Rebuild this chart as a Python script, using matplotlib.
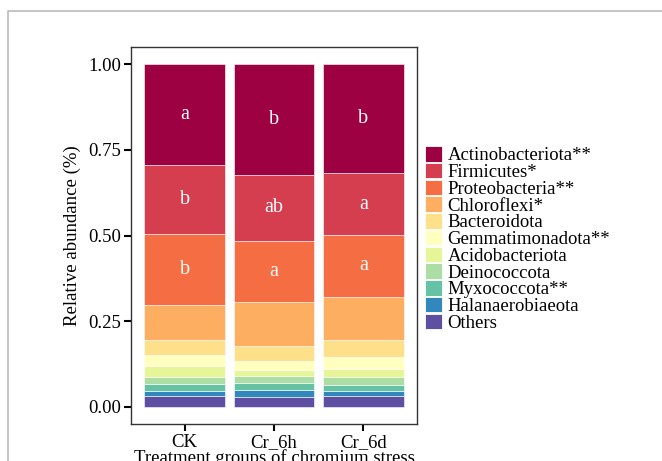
import numpy as np
import matplotlib
matplotlib.use("Agg")
import matplotlib.pyplot as plt
from matplotlib.patches import Patch
from matplotlib.lines import Line2D

plt.rcParams['font.family'] = ['Liberation Serif', 'DejaVu Serif']

groups = ['CK', 'Cr_6h', 'Cr_6d']

# phyla from bottom of stack to top
phyla = ['Others', 'Halanaerobiaeota', 'Myxococcota**', 'Deinococcota',
         'Acidobacteriota', 'Gemmatimonadota**', 'Bacteroidota',
         'Chloroflexi*', 'Proteobacteria**', 'Firmicutes*', 'Actinobacteriota**']

others = [0.033, 0.029, 0.032]
halanaerobiaeota = [0.0136, 0.0196, 0.0156]
myxococcota = [0.0204, 0.0214, 0.0164]
deinococcota = [0.0214, 0.0204, 0.0244]
acidobacteriota = [0.032, 0.0186, 0.0224]
gemmatimonadota = [0.032, 0.025, 0.035]
bacteroidota = [0.042, 0.044, 0.049]
chloroflexi = [0.104, 0.129, 0.1257]
proteobacteria = [0.207, 0.178, 0.1813]
firmicutes = [0.1995, 0.1905, 0.180]
actinobacteriota = [0.2945, 0.3245, 0.318]

# significance letters
letters_actino = ['a', 'b', 'b']
letters_firm = ['b', 'ab', 'a']
letters_proteo = ['b', 'a', 'a']

colors = ['#5E4FA2', '#3288BD', '#66C2A5', '#ABDDA4', '#E6F598', '#FFFFBF',
          '#FEE08B', '#FDAE61', '#F46D43', '#D53E4F', '#9E0142']

values = np.array([others, halanaerobiaeota, myxococcota, deinococcota,
                   acidobacteriota, gemmatimonadota, bacteroidota, chloroflexi,
                   proteobacteria, firmicutes, actinobacteriota])

fig = plt.figure(figsize=(6.62, 4.61), dpi=100)
W, H = 662, 461
ax = fig.add_axes([131 / W, (H - 424) / H, (417 - 131) / W, (424 - 47) / H])

x = np.arange(1, len(groups) + 1)
bottom = np.zeros(len(groups))
for i, name in enumerate(phyla):
    ax.bar(x, values[i], 0.9, bottom=bottom, color=colors[i],
           edgecolor='white', linewidth=0.4, label=name)
    bottom += values[i]

# letters at centre of segments
cum = np.cumsum(values, axis=0)
for idx, letters in [(10, letters_actino), (9, letters_firm), (8, letters_proteo)]:
    centers = cum[idx] - values[idx] / 2
    for xi, yi, t in zip(x, centers, letters):
        ax.text(xi, yi, t, color='white', ha='center', va='center', fontsize=14.5)

ax.set_xlim(0.4, 3.6)
ax.set_ylim(-0.05, 1.05)
ax.set_xticks(x)
ax.set_xticklabels(groups)
ax.set_yticks([0, 0.25, 0.5, 0.75, 1.0])
ax.set_yticklabels(['0.00', '0.25', '0.50', '0.75', '1.00'])
ax.tick_params(axis='both', labelsize=13.5, length=5, width=1.5, color='black',
               labelcolor='black', pad=2)
for s in ax.spines.values():
    s.set_color('#333333')
    s.set_linewidth(1.0)

ax.set_ylabel('Relative abundance (%)', fontsize=13.5, labelpad=5)
ax.set_xlabel('Treatment groups of chromium stress', fontsize=13.5, labelpad=-1)

handles = [Patch(facecolor=colors[i], edgecolor='white', linewidth=0.6)
           for i in range(len(phyla))][::-1]
leg = fig.legend(handles, phyla[::-1], loc='upper left',
                 bbox_to_anchor=(412 / W, 1 - 133 / H), frameon=False,
                 fontsize=13.5, handlelength=0.9, handleheight=0.9,
                 handletextpad=0.3, labelspacing=-0.08, borderpad=0.2)

# outer frame line (top and left)
fig.add_artist(Line2D([8 / W, 8 / W, 1.0], [0.0, 1 - 11 / H, 1 - 11 / H],
                      transform=fig.transFigure, color='#BBBBBB', linewidth=1.2))

fig.savefig('out.png', dpi=100)
